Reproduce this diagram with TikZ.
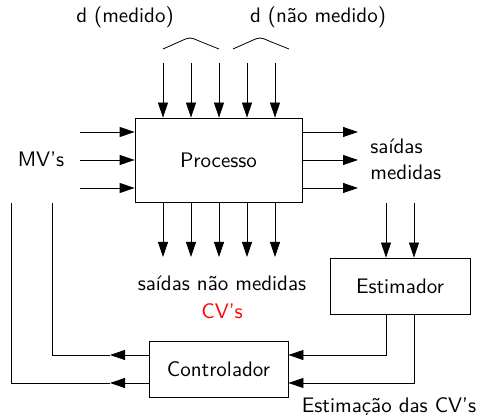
\documentclass[tikz,border=0pt]{standalone}
\usetikzlibrary{arrows.meta}
\begin{document}
\begin{tikzpicture}[x=0.5pt,y=-0.5pt,font=\sffamily\fontsize{10.5}{13}\selectfont,
  arr/.style={-{Triangle[length=7.5pt,width=5pt]}},
  blk/.style={draw,rectangle,inner sep=0pt},
  lbl/.style={inner sep=0pt}]
\useasboundingbox (0,0) rectangle (477,415);
% blocks
\node[blk,minimum width=83.5pt,minimum height=42pt] (proc) at (218.5,160) {Processo};
\node[blk,minimum width=70pt,minimum height=28pt] (est) at (400,286) {Estimador};
\node[blk,minimum width=69.5pt,minimum height=28pt] (ctrl) at (218.5,369) {Controlador};
% labels
\node[lbl] (dm) at (125,17) {d (medido)};
\node[lbl] (dnm) at (318,17) {d (não medido)};
\node[lbl] (mv) at (41,159) {MV's};
\node[lbl,anchor=west,align=left] (sm) at (370,159) {saídas\\medidas};
\node[lbl] (snm) at (222,283) {saídas não medidas};
\node[lbl,text=red] (cv) at (222,311) {CV's};
\node[lbl] (ecv) at (389,407) {Estimação das CV's};
% braces
\draw (163,49) -- (181,41) .. controls (190,37) .. (199,41) -- (219,49);
\draw (233,49) -- (251,41) .. controls (260,37) .. (269,41) -- (289,49);
% top and bottom arrows
\foreach \x [count=\i] in {163,191,219,247,275}{
  \coordinate (t\i) at (\x,63);
  \coordinate (b\i) at (\x,257);
  \draw[arr] (t\i) -- (t\i |- proc.north);
  \draw[arr] (b\i |- proc.south) -- (b\i);
}
% left and right arrows
\foreach \y [count=\i] in {132,160,188}{
  \coordinate (l\i) at (80,\y);
  \coordinate (r\i) at (358,\y);
  \draw[arr] (l\i) -- (l\i -| proc.west);
  \draw[arr] (r\i -| proc.east) -- (r\i);
}
% estimator inputs
\coordinate (e1) at (386,203);
\coordinate (e2) at (414,203);
\draw[arr] (e1) -- (e1 |- est.north);
\draw[arr] (e2) -- (e2 |- est.north);
% estimator to controller
\coordinate (c1) at (386,355);
\coordinate (c2) at (414,383);
\draw[arr] (c1 |- est.south) |- (c1 -| ctrl.east);
\draw[arr] (c2 |- est.south) |- (c2 -| ctrl.east);
% controller to MVs
\coordinate (m1) at (110,355);
\coordinate (m2) at (110,383);
\coordinate (f1) at (52,203);
\coordinate (f2) at (11,203);
\draw[arr] (m1 -| ctrl.west) -- (m1);
\draw[arr] (m2 -| ctrl.west) -- (m2);
\draw (m1) -| (f1);
\draw (m2) -| (f2);
\end{tikzpicture}
\end{document}
